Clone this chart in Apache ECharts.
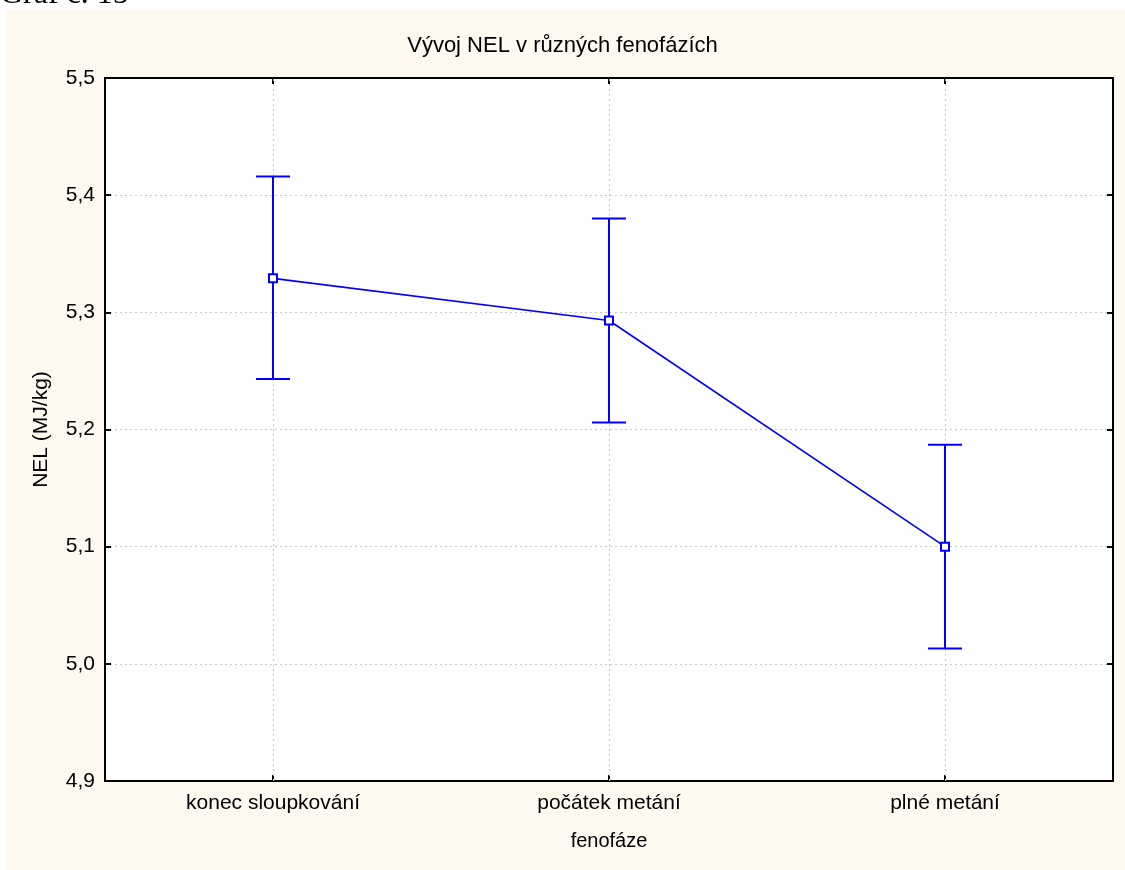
<!DOCTYPE html>
<html>
<head>
<meta charset="utf-8">
<script src="https://cdn.jsdelivr.net/npm/echarts@6/dist/echarts.min.js"></script>
<style>html,body{margin:0;padding:0;background:#fff;}#c{width:1125px;height:870px;}</style>
</head>
<body>
<div id="c"></div>
<script>
const categories = ['konec sloupkování', 'počátek metání', 'plné metání'];
const means = [5.329, 5.293, 5.100];
const lower = [5.243, 5.206, 5.013];
const upper = [5.416, 5.380, 5.187];
const yTicks = { min: 4.9, max: 5.5, interval: 0.1 };

const chart = echarts.init(document.getElementById('c'));
const font = 'Liberation Sans, Arial, sans-serif';
const blue = '#0000ff';
const fmt = v => v.toFixed(1).replace('.', ',');

const option = {
  backgroundColor: '#ffffff',
  animation: false,
  graphic: [
    { type: 'rect', z: -100, shape: { x: 6, y: 10, width: 1119, height: 860 }, style: { fill: '#fdf9ee' } },
    { type: 'text', z: 10, left: 0, top: -21, style: { text: 'Graf č. 15', font: '32px "Liberation Serif", "Times New Roman", serif', fill: '#000' } }
  ],
  title: {
    text: 'Vývoj NEL v různých fenofázích',
    left: 'center', top: 30,
    textStyle: { fontFamily: font, fontSize: 22, fontWeight: 'normal', color: '#000' }
  },
  grid: {
    left: 105, right: 12, top: 78, bottom: 89,
    show: true, backgroundColor: '#ffffff', borderColor: '#000', borderWidth: 2
  },
  xAxis: [
    {
      type: 'category', data: categories, boundaryGap: true,
      name: 'fenofáze', nameLocation: 'middle', nameGap: 50, nameMoveOverlap: false,
      nameTextStyle: { fontFamily: font, fontSize: 20, color: '#000' },
      axisLine: { show: false },
      axisTick: { show: true, inside: true, alignWithLabel: true, length: 6, lineStyle: { color: '#000', width: 2 } },
      axisLabel: { fontFamily: font, fontSize: 21, color: '#000', margin: 12 },
      splitLine: { show: false }
    },
    {
      type: 'category', data: categories, boundaryGap: true, position: 'top',
      axisLine: { show: false },
      axisTick: { show: true, inside: true, alignWithLabel: true, length: 6, lineStyle: { color: '#000', width: 2 } },
      axisLabel: { show: false }, splitLine: { show: false }
    }
  ],
  yAxis: [
    {
      type: 'value', min: yTicks.min, max: yTicks.max, interval: yTicks.interval,
      name: 'NEL (MJ/kg)', nameLocation: 'middle', nameGap: 53, nameRotate: 90, nameMoveOverlap: false,
      nameTextStyle: { fontFamily: font, fontSize: 21, color: '#000' },
      axisLine: { show: false },
      axisTick: { show: true, inside: true, length: 6, lineStyle: { color: '#000', width: 2 } },
      axisLabel: { fontFamily: font, fontSize: 21, color: '#000', margin: 10, formatter: fmt },
      splitLine: { show: true, showMinLine: false, showMaxLine: false, lineStyle: { color: '#c8c8c8', width: 1, type: [2, 3] } }
    },
    {
      type: 'value', min: yTicks.min, max: yTicks.max, interval: yTicks.interval, position: 'right',
      axisLine: { show: false },
      axisTick: { show: true, inside: true, length: 6, lineStyle: { color: '#000', width: 2 } },
      axisLabel: { show: false }, splitLine: { show: false }
    }
  ],
  series: [
    {
      type: 'line', data: [], z: 1, silent: true,
      markLine: {
        silent: true, symbol: 'none', label: { show: false },
        lineStyle: { color: '#c8c8c8', width: 1, type: [2, 3] },
        data: categories.map(c => ({ xAxis: c }))
      }
    },
    {
      type: 'custom', z: 8,
      data: categories.map((c, i) => [i, lower[i], upper[i]]),
      renderItem: function (params, api) {
        const lo = api.coord([api.value(0), api.value(1)]);
        const hi = api.coord([api.value(0), api.value(2)]);
        const hw = 17;
        const st = { stroke: blue, lineWidth: 2 };
        return {
          type: 'group',
          children: [
            { type: 'line', shape: { x1: lo[0], y1: lo[1], x2: hi[0], y2: hi[1] }, style: st },
            { type: 'line', shape: { x1: lo[0] - hw, y1: lo[1], x2: lo[0] + hw, y2: lo[1] }, style: st },
            { type: 'line', shape: { x1: hi[0] - hw, y1: hi[1], x2: hi[0] + hw, y2: hi[1] }, style: st }
          ]
        };
      }
    },
    {
      type: 'line', z: 9, data: means,
      symbol: 'rect', symbolSize: 8, showAllSymbol: true,
      lineStyle: { color: blue, width: 1.6 },
      itemStyle: { color: '#fff', borderColor: blue, borderWidth: 2 }
    }
  ]
};
chart.setOption(option);
</script>
</body>
</html>
